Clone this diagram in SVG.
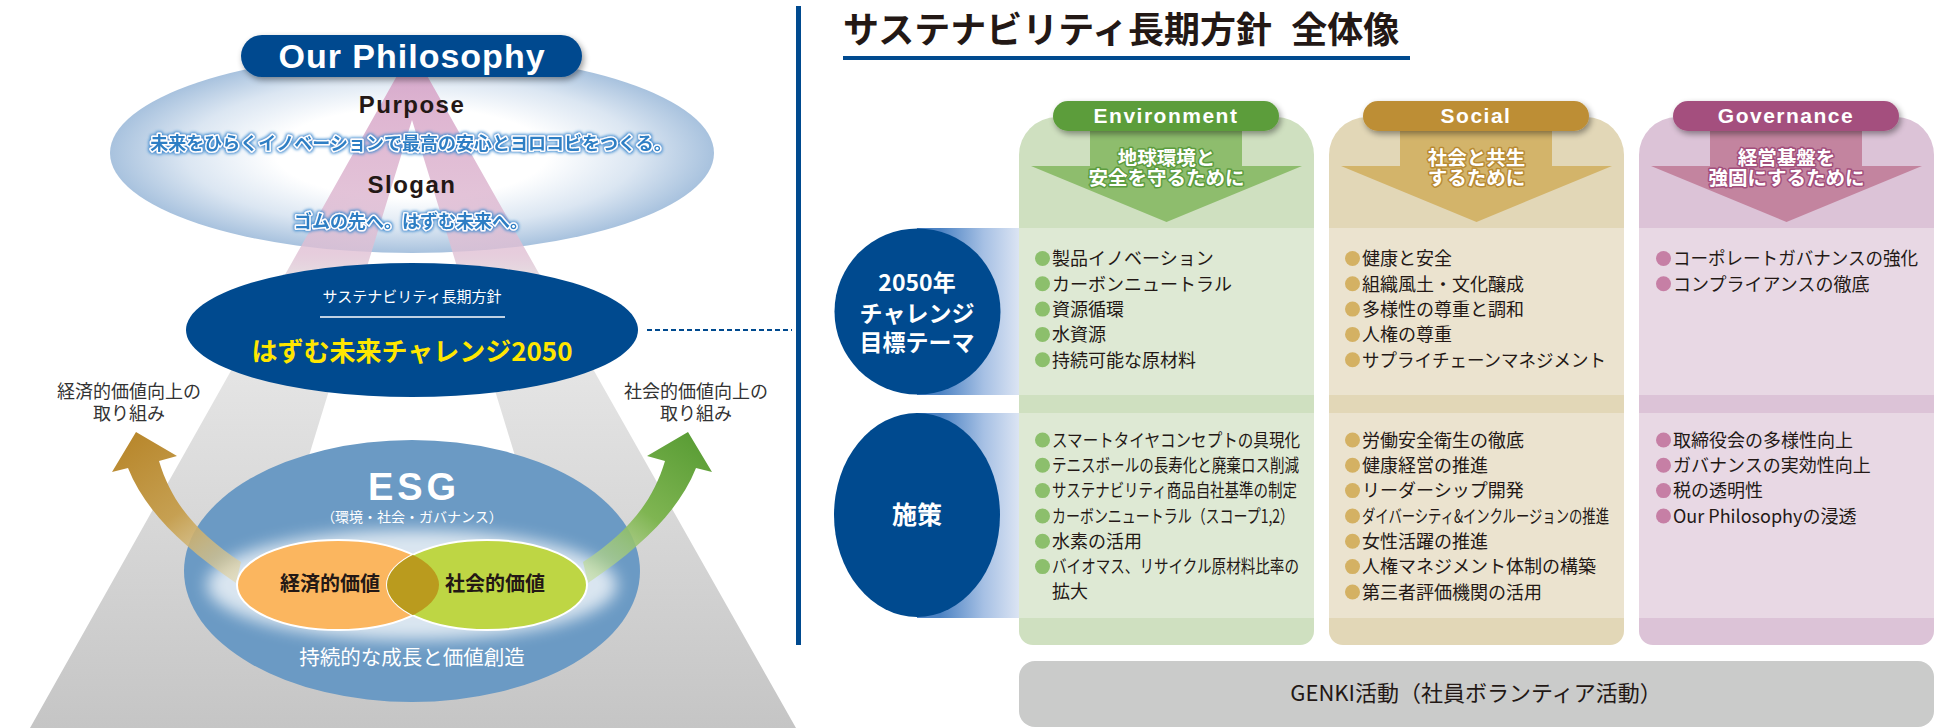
<svg xmlns="http://www.w3.org/2000/svg" width="1955" height="728" viewBox="0 0 1955 728">
<defs>
<style>
.jp{font-family:'Noto Sans CJK JP','Noto Sans CJK SC',sans-serif}
.en{font-family:'Liberation Sans',Arial,sans-serif}
.it{font-family:'Noto Sans CJK JP','Noto Sans CJK SC',sans-serif;font-size:18px;fill:#231815}
.ol{paint-order:stroke;stroke-linejoin:round}
.c{text-anchor:middle}
.w{fill:#ffffff}
</style>
<radialGradient id="phG" cx="0.5" cy="0.5" r="0.5">
<stop offset="0" stop-color="#ffffff"/>
<stop offset="0.45" stop-color="#ffffff"/>
<stop offset="0.75" stop-color="#dbe6f2"/>
<stop offset="1" stop-color="#a8c2de"/>
</radialGradient>
<linearGradient id="aG" gradientUnits="userSpaceOnUse" x1="0" y1="49" x2="0" y2="728">
<stop offset="0" stop-color="#d49bc3" stop-opacity="0.85"/>
<stop offset="0.3" stop-color="#e0c0d4" stop-opacity="0.8"/>
<stop offset="0.33" stop-color="#e6dbe1"/>
<stop offset="0.45" stop-color="#e6e6e6"/>
<stop offset="1" stop-color="#c5c5c5"/>
</linearGradient>
<linearGradient id="goldG" gradientUnits="userSpaceOnUse" x1="136" y1="432" x2="240" y2="580">
<stop offset="0" stop-color="#b8872c"/>
<stop offset="0.5" stop-color="#c6a052"/>
<stop offset="1" stop-color="#e4d7a8" stop-opacity="0.6"/>
</linearGradient>
<linearGradient id="greenG" gradientUnits="userSpaceOnUse" x1="136" y1="432" x2="240" y2="580">
<stop offset="0" stop-color="#5a9d35"/>
<stop offset="0.5" stop-color="#7fb552"/>
<stop offset="1" stop-color="#c8e0a0" stop-opacity="0.6"/>
</linearGradient>
<linearGradient id="bandG" gradientUnits="userSpaceOnUse" x1="940" y1="0" x2="1019" y2="0">
<stop offset="0" stop-color="#4b82c3"/>
<stop offset="0.55" stop-color="#a6c0e4"/>
<stop offset="1" stop-color="#dbe4f3"/>
</linearGradient>
<clipPath id="clipL"><ellipse cx="338" cy="585" rx="101" ry="45"/></clipPath>
<filter id="sh" x="-20%" y="-40%" width="140%" height="200%">
<feGaussianBlur in="SourceAlpha" stdDeviation="3"/>
<feOffset dx="2" dy="3"/>
<feComponentTransfer><feFuncA type="linear" slope="0.4"/></feComponentTransfer>
<feMerge><feMergeNode/><feMergeNode in="SourceGraphic"/></feMerge>
</filter>
<filter id="glow" x="-5%" y="-40%" width="110%" height="180%">
<feMorphology in="SourceAlpha" operator="dilate" radius="1" result="d"/>
<feGaussianBlur in="d" stdDeviation="1.5" result="b"/>
<feFlood flood-color="#3d8bd0"/>
<feComposite in2="b" operator="in"/>
<feMerge><feMergeNode/><feMergeNode in="SourceGraphic"/></feMerge>
</filter>
<filter id="bl" x="-20%" y="-50%" width="140%" height="200%"><feGaussianBlur stdDeviation="8"/></filter>
</defs>

<rect width="1955" height="728" fill="#ffffff"/>

<!-- LEFT PANEL -->
<g id="philosophy-ellipse">
<ellipse cx="412" cy="153" rx="302" ry="100" fill="url(#phG)"/>
</g>
<g id="a-frame">
<path d="M412,49 L30,728 L796,728 Z M412,120 L277,560 L547,560 Z" fill="url(#aG)" fill-rule="evenodd"/>
</g>
<g id="our-philosophy">
<rect x="241" y="35" width="341" height="42" rx="21" fill="#004a8f" filter="url(#sh)"/>
<text x="412" y="68" class="en c w" font-size="34" font-weight="bold" letter-spacing="1">Our Philosophy</text>
<text x="412" y="113" class="en c" font-size="24" font-weight="bold" fill="#231815" letter-spacing="1.5">Purpose</text>
<text x="411" y="150" class="jp c ol" font-size="18" font-weight="bold" fill="#2d7ec4" stroke="#ffffff" stroke-width="3" filter="url(#glow)">未来をひらくイノベーションで最高の安心とヨロコビをつくる。</text>
<text x="412" y="193" class="en c" font-size="24" font-weight="bold" fill="#231815" letter-spacing="1.5">Slogan</text>
<text x="411" y="228" class="jp c ol" font-size="18" font-weight="bold" fill="#2d7ec4" stroke="#ffffff" stroke-width="3" filter="url(#glow)">ゴムの先へ。はずむ未来へ。</text>
</g>
<g id="challenge-2050">
<ellipse cx="412" cy="330" rx="226" ry="67" fill="#004a8f"/>
<text x="412" y="302" class="jp c w" font-size="15">サステナビリティ長期方針</text>
<line x1="320" y1="317" x2="505" y2="317" stroke="#ffffff" stroke-width="1.5"/>
<text x="412" y="361" class="jp c" font-size="26" font-weight="bold" fill="#ffe600">はずむ未来チャレンジ2050</text>
</g>
<g id="esg">
<ellipse cx="412" cy="571" rx="228" ry="131" fill="#6b9ac4"/>
<ellipse cx="412" cy="585" rx="205" ry="55" fill="#ffffff" opacity="0.75" filter="url(#bl)"/>
<text x="414" y="500" class="en c w" font-size="38" font-weight="bold" letter-spacing="4">ESG</text>
<text x="412" y="522" class="jp c w" font-size="14">（環境・社会・ガバナンス）</text>
<text x="412" y="665" class="jp c w" font-size="20.5">持続的な成長と価値創造</text>
</g>
<g id="connectors">
<path id="arrow-economic" d="M136,432 L177,456 L159,461 C172,505 200,535 241,562 L236,583 C180,545 145,510 128,468 L112,472 Z" fill="url(#goldG)"/>
<path id="arrow-social" transform="translate(824,0) scale(-1,1)" d="M136,432 L177,456 L159,461 C172,505 200,535 241,562 L236,583 C180,545 145,510 128,468 L112,472 Z" fill="url(#greenG)"/>
<line x1="647" y1="330" x2="792" y2="330" stroke="#004a8f" stroke-width="2" stroke-dasharray="5 3"/>
</g>
<g id="value-ellipses">
<ellipse cx="338" cy="585" rx="101" ry="45" fill="#fbb65f" stroke="#ffffff" stroke-width="2"/>
<ellipse cx="487" cy="585" rx="100" ry="45" fill="#bed644" stroke="#ffffff" stroke-width="2"/>
<ellipse cx="487" cy="585" rx="100" ry="45" fill="#ba9b1e" clip-path="url(#clipL)"/>
<text x="330" y="591" class="jp c" font-size="20" font-weight="bold" fill="#231815">経済的価値</text>
<text x="495" y="591" class="jp c" font-size="20" font-weight="bold" fill="#231815">社会的価値</text>
</g>
<g id="label-economic">
<text x="129" y="398" class="jp c" font-size="18" fill="#333333">経済的価値向上の</text>
<text x="129" y="420" class="jp c" font-size="18" fill="#333333">取り組み</text>
</g>
<g id="label-social">
<text x="696" y="398" class="jp c" font-size="18" fill="#333333">社会的価値向上の</text>
<text x="696" y="420" class="jp c" font-size="18" fill="#333333">取り組み</text>
</g>
<rect id="divider" x="796" y="6" width="5" height="639" fill="#004a8f"/>

<!-- RIGHT PANEL -->
<g id="title">
<text x="843" y="43" class="jp" font-size="36" font-weight="bold" word-spacing="11" fill="#231815">サステナビリティ長期方針 全体像</text>
<rect x="843" y="56" width="567" height="4" fill="#004a8f"/>
</g>

<g id="row-labels">
<rect x="917" y="228" width="102" height="167" fill="url(#bandG)"/>
<rect x="917" y="413" width="102" height="205" fill="url(#bandG)"/>
<circle cx="917.5" cy="311.5" r="83" fill="#004a8f"/>
<text x="917" y="291" class="jp c w" font-size="23" font-weight="bold">2050年</text>
<text x="917" y="322" class="jp c w" font-size="23" font-weight="bold">チャレンジ</text>
<text x="917" y="351" class="jp c w" font-size="23" font-weight="bold">目標テーマ</text>
<ellipse cx="917" cy="515" rx="83" ry="102" fill="#004a8f"/>
<text x="917" y="524" class="jp c w" font-size="25" font-weight="bold">施策</text>
</g>

<g id="col-environment" transform="translate(1019,0)">
<path d="M0,155 A38,38 0 0 1 38,117 H257 A38,38 0 0 1 295,155 V631 A14,14 0 0 1 281,645 H14 A14,14 0 0 1 0,631 Z" fill="#cfe0c0"/>
<rect x="0" y="228" width="295" height="167" fill="#dee9d4"/>
<rect x="0" y="413" width="295" height="205" fill="#dee9d4"/>
<path d="M71,125 H223 V166 H283 L147.5,222 L12,166 H71 Z" fill="#8ebd6d"/>
<rect x="34" y="101" width="226" height="30" rx="15" fill="#5b9d3a" filter="url(#sh)"/>
<text x="147" y="123" class="en c w" font-size="21" font-weight="bold" letter-spacing="1.5">Environment</text>
<text x="147.5" y="165" class="jp c w ol" font-size="19.5" font-weight="bold" stroke="#5c9c3e" stroke-width="3">地球環境と</text>
<text x="147.5" y="185" class="jp c w ol" font-size="19.5" font-weight="bold" stroke="#5c9c3e" stroke-width="3">安全を守るために</text>
<g fill="#8cbf6c">
<circle cx="23.5" cy="258.5" r="7.5"/><circle cx="23.5" cy="283.8" r="7.5"/><circle cx="23.5" cy="309.1" r="7.5"/><circle cx="23.5" cy="334.4" r="7.5"/><circle cx="23.5" cy="359.7" r="7.5"/>
<circle cx="23.5" cy="440" r="7.5"/><circle cx="23.5" cy="465.3" r="7.5"/><circle cx="23.5" cy="490.6" r="7.5"/><circle cx="23.5" cy="516" r="7.5"/><circle cx="23.5" cy="541.3" r="7.5"/><circle cx="23.5" cy="566.6" r="7.5"/>
</g>
<text x="33" y="265.3" class="it">製品イノベーション</text>
<text x="33" y="290.6" class="it">カーボンニュートラル</text>
<text x="33" y="315.9" class="it">資源循環</text>
<text x="33" y="341.2" class="it">水資源</text>
<text x="33" y="366.5" class="it">持続可能な原材料</text>
<text x="33" y="446.8" class="it" textLength="248" lengthAdjust="spacingAndGlyphs">スマートタイヤコンセプトの具現化</text>
<text x="33" y="472.1" class="it" textLength="247" lengthAdjust="spacingAndGlyphs">テニスボールの長寿化と廃棄ロス削減</text>
<text x="33" y="497.4" class="it" textLength="245" lengthAdjust="spacingAndGlyphs">サステナビリティ商品自社基準の制定</text>
<text x="33" y="522.8" class="it" textLength="242" lengthAdjust="spacingAndGlyphs">カーボンニュートラル（スコープ1,2）</text>
<text x="33" y="548.1" class="it">水素の活用</text>
<text x="33" y="573.4" class="it" textLength="247" lengthAdjust="spacingAndGlyphs">バイオマス、リサイクル原材料比率の</text>
<text x="33" y="597.5" class="it">拡大</text>
</g>

<g id="col-social" transform="translate(1329,0)">
<path d="M0,155 A38,38 0 0 1 38,117 H257 A38,38 0 0 1 295,155 V631 A14,14 0 0 1 281,645 H14 A14,14 0 0 1 0,631 Z" fill="#e2d7b7"/>
<rect x="0" y="228" width="295" height="167" fill="#ebe3cf"/>
<rect x="0" y="413" width="295" height="205" fill="#ebe3cf"/>
<path d="M71,125 H223 V166 H283 L147.5,222 L12,166 H71 Z" fill="#d3b46a"/>
<rect x="34" y="101" width="226" height="30" rx="15" fill="#bd8e35" filter="url(#sh)"/>
<text x="147" y="123" class="en c w" font-size="21" font-weight="bold" letter-spacing="1.5">Social</text>
<text x="147.5" y="165" class="jp c w ol" font-size="19.5" font-weight="bold" stroke="#b88a33" stroke-width="3">社会と共生</text>
<text x="147.5" y="185" class="jp c w ol" font-size="19.5" font-weight="bold" stroke="#b88a33" stroke-width="3">するために</text>
<g fill="#d4b163">
<circle cx="23.5" cy="258.5" r="7.5"/><circle cx="23.5" cy="283.8" r="7.5"/><circle cx="23.5" cy="309.1" r="7.5"/><circle cx="23.5" cy="334.4" r="7.5"/><circle cx="23.5" cy="359.7" r="7.5"/>
<circle cx="23.5" cy="440" r="7.5"/><circle cx="23.5" cy="465.3" r="7.5"/><circle cx="23.5" cy="490.6" r="7.5"/><circle cx="23.5" cy="516" r="7.5"/><circle cx="23.5" cy="541.3" r="7.5"/><circle cx="23.5" cy="566.6" r="7.5"/><circle cx="23.5" cy="592" r="7.5"/>
</g>
<text x="33" y="265.3" class="it">健康と安全</text>
<text x="33" y="290.6" class="it">組織風土・文化醸成</text>
<text x="33" y="315.9" class="it">多様性の尊重と調和</text>
<text x="33" y="341.2" class="it">人権の尊重</text>
<text x="33" y="366.5" class="it" textLength="244" lengthAdjust="spacingAndGlyphs">サプライチェーンマネジメント</text>
<text x="33" y="446.8" class="it">労働安全衛生の徹底</text>
<text x="33" y="472.1" class="it">健康経営の推進</text>
<text x="33" y="497.4" class="it">リーダーシップ開発</text>
<text x="33" y="522.8" class="it" textLength="247" lengthAdjust="spacingAndGlyphs">ダイバーシティ&amp;インクルージョンの推進</text>
<text x="33" y="548.1" class="it">女性活躍の推進</text>
<text x="33" y="573.4" class="it">人権マネジメント体制の構築</text>
<text x="33" y="598.8" class="it">第三者評価機関の活用</text>
</g>

<g id="col-governance" transform="translate(1639,0)">
<path d="M0,155 A38,38 0 0 1 38,117 H257 A38,38 0 0 1 295,155 V631 A14,14 0 0 1 281,645 H14 A14,14 0 0 1 0,631 Z" fill="#dcc3d7"/>
<rect x="0" y="228" width="295" height="167" fill="#e8d8e4"/>
<rect x="0" y="413" width="295" height="205" fill="#e8d8e4"/>
<path d="M71,125 H223 V166 H283 L147.5,222 L12,166 H71 Z" fill="#c3849f"/>
<rect x="34" y="101" width="226" height="30" rx="15" fill="#a44f7e" filter="url(#sh)"/>
<text x="147" y="123" class="en c w" font-size="21" font-weight="bold" letter-spacing="1.5">Governance</text>
<text x="147.5" y="165" class="jp c w ol" font-size="19.5" font-weight="bold" stroke="#a24e7c" stroke-width="3">経営基盤を</text>
<text x="147.5" y="185" class="jp c w ol" font-size="19.5" font-weight="bold" stroke="#a24e7c" stroke-width="3">強固にするために</text>
<g fill="#c67fa5">
<circle cx="24.5" cy="258.5" r="7.5"/><circle cx="24.5" cy="283.8" r="7.5"/>
<circle cx="24.5" cy="440" r="7.5"/><circle cx="24.5" cy="465.3" r="7.5"/><circle cx="24.5" cy="490.6" r="7.5"/><circle cx="24.5" cy="516" r="7.5"/>
</g>
<text x="34" y="265.3" class="it" textLength="245" lengthAdjust="spacingAndGlyphs">コーポレートガバナンスの強化</text>
<text x="34" y="290.6" class="it">コンプライアンスの徹底</text>
<text x="34" y="446.8" class="it">取締役会の多様性向上</text>
<text x="34" y="472.1" class="it">ガバナンスの実効性向上</text>
<text x="34" y="497.4" class="it">税の透明性</text>
<text x="34" y="522.8" class="it">Our Philosophyの浸透</text>
</g>

<g id="genki">
<rect x="1019" y="661" width="915" height="66" rx="16" fill="#cacbca"/>
<text x="1476" y="701" class="jp c" font-size="22" fill="#231815">GENKI活動（社員ボランティア活動）</text>
</g>
</svg>
